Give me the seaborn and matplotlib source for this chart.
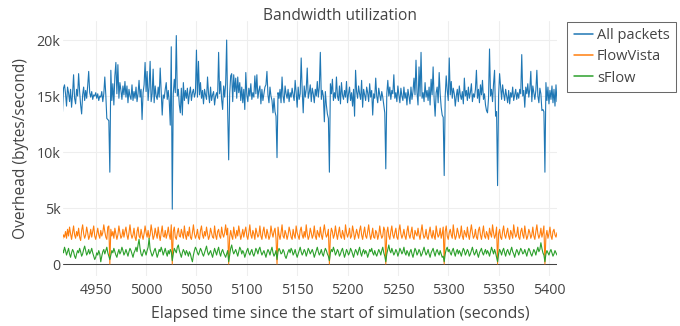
import numpy as np
import pandas as pd
import matplotlib
matplotlib.use("Agg")
import matplotlib.pyplot as plt
import seaborn as sns

# ---------------- data (one sample per second, starting at 4917 s) ----------------
start_second = 4917

all_packets = [
    13600, 15700, 16000,
    15200, 14100, 15800, 15300, 14500, 15600, 14000, 15200, 16900, 14800,  # 4920
    14300, 15600, 15000, 17000, 15400, 14200, 13400, 15100, 15800, 14600,  # 4930
    15500, 14800, 15900, 17200, 15300, 14900, 15400, 14700, 15100, 15000,  # 4940
    15300, 14800, 15200, 14600, 15000, 14900, 15400, 14500, 15200, 16700,  # 4950
    15100, 13000, 12900, 12800, 8200, 17300, 14600, 16100, 14200, 16800,   # 4960
    18000, 15200, 17800, 14800, 16200, 15500, 14700, 15900, 15100, 16300,  # 4970
    14900, 15900, 14400, 15600, 15000, 14700, 16000, 14600, 15400, 14800,  # 4980
    15800, 14500, 15200, 16400, 14900, 15600, 12900, 15300, 16000, 18000,  # 4990
    15400, 17200, 14600, 15800, 18100, 14500, 15200, 17400, 14400, 15900,  # 5000
    15000, 14700, 15800, 14900, 17500, 15400, 13300, 15100, 14800, 15600,  # 5010
    16200, 14700, 15500, 14500, 12400, 19400, 4900, 15200, 16500, 15300,   # 5020
    20400, 15000, 15600, 14200, 13500, 15700, 13300, 16200, 14600, 15500,  # 5030
    14800, 15700, 14300, 15200, 15800, 14600, 15300, 15600, 14900, 15300,  # 5040
    19100, 14900, 18100, 15100, 16200, 14800, 15500, 14300, 15600, 15100,  # 5050
    14700, 16700, 15200, 14400, 15800, 14600, 15100, 15400, 14200, 15000,  # 5060
    15300, 14800, 18900, 15200, 16300, 14700, 13800, 15900, 14900, 16100,  # 5070
    20000, 13600, 9300, 15200, 16800, 17000, 14500, 16900, 15400, 16600,   # 5080
    14800, 16700, 15300, 16200, 14600, 15800, 14400, 15600, 13800, 17100,  # 5090
    15100, 14500, 15700, 15000, 16100, 14700, 15300, 14900, 16800, 15200,  # 5100
    16900, 14800, 15500, 15900, 14300, 15600, 14600, 15200, 15800, 16000,  # 5110
    17200, 15100, 14400, 15800, 15000, 14600, 13500, 14800, 13600, 13200,  # 5120
    9500, 15300, 14800, 15600, 14400, 16700, 15000, 14400, 15900, 15200,   # 5130
    14800, 15600, 14500, 15300, 14900, 15700, 15100, 14600, 16400, 15300,  # 5140
    14000, 15800, 14700, 15200, 18400, 15500, 13500, 15900, 14900, 15600,  # 5150
    17500, 14800, 15300, 16000, 14500, 15700, 15200, 14400, 15600, 15000,  # 5160
    16300, 14900, 15800, 18900, 14700, 15500, 15000, 12700, 15400, 14200,  # 5170
    13400, 13000, 8200, 16100, 15200, 16500, 14600, 15300, 14800, 16700,   # 5180
    15000, 14600, 15900, 14300, 16200, 15100, 14700, 15500, 14900, 16300,  # 5190
    14400, 15200, 15800, 14600, 15300, 14100, 15600, 13200, 17300, 15400,  # 5200
    14800, 15900, 15200, 14700, 16400, 14000, 15600, 15100, 14600, 15800,  # 5210
    15300, 14500, 16100, 14900, 15500, 13300, 15200, 14800, 16600, 15000,  # 5220
    14400, 15700, 15100, 14600, 15400, 14900, 14200, 13500, 8500, 15200,   # 5230
    16400, 15000, 15800, 14700, 15500, 15200, 16900, 14800, 15300, 14500,  # 5240
    15900, 15100, 14400, 15700, 15000, 14600, 15800, 14800, 15300, 14200,  # 5250
    15600, 15000, 14300, 15800, 14700, 15400, 16600, 15100, 18200, 15300,  # 5260
    14200, 17600, 15000, 18900, 14800, 15300, 14500, 16200, 14900, 15500,  # 5270
    14600, 15800, 14200, 16500, 15100, 17600, 14700, 13200, 15300, 15800,  # 5280
    14400, 17100, 15200, 14000, 13300, 13100, 7900, 15000, 16800, 15500,   # 5290
    14600, 18400, 15100, 16300, 14800, 15700, 15200, 14100, 15000, 15600,  # 5300
    14500, 15900, 15100, 14700, 15400, 14300, 16600, 15000, 15500, 14600,  # 5310
    15800, 14800, 15300, 16100, 14500, 15200, 14900, 15600, 17300, 14800,  # 5320
    15600, 14400, 16000, 15100, 16400, 14700, 15200, 14200, 13700, 13500,  # 5330
    14800, 19200, 15000, 15600, 14500, 16100, 17300, 13200, 13600, 7000,   # 5340
    15100, 17000, 15800, 14700, 16000, 15200, 14600, 15600, 15000, 14400,  # 5350
    15500, 14300, 15300, 14900, 15800, 14600, 15100, 15600, 14700, 15300,  # 5360
    14800, 15600, 15200, 18700, 15000, 15500, 14000, 15800, 15200, 16100,  # 5370
    14900, 15600, 17200, 14500, 15900, 15300, 14700, 15500, 17300, 15000,  # 5380
    14400, 15700, 15200, 13700, 13800, 13600, 8200, 16200, 14600, 15800,   # 5390
    14300, 15500, 14700, 15900, 14400, 15600, 14100, 16000, 14500,         # 5400
]

flowvista = [
    2200, 2600, 2400,
    2900, 2300, 3100, 2500, 3300, 2700, 2200, 2800, 3400, 2600,  # 4920
    2300, 2900, 2500, 3200, 2400, 2100, 3000, 3500, 2700, 2300,  # 4930
    2600, 3300, 2800, 2200, 2500, 3100, 2400, 2900, 3400, 2500,  # 4940
    2200, 2700, 3200, 2600, 2300, 3000, 2500, 2800, 3500, 2900,  # 4950
    2400, 2200, 3300, 3400, 0, 3100, 2500, 2900, 2300, 3200,     # 4960
    2700, 2200, 2600, 3400, 2800, 2300, 2500, 3100, 2400, 2900,  # 4970
    3300, 2600, 2200, 2800, 3500, 2700, 2300, 2600, 3200, 2400,  # 4980
    2100, 2900, 3300, 2500, 2300, 3100, 2600, 2200, 2700, 3400,  # 4990
    2800, 2400, 3000, 2300, 2600, 3500, 2900, 2200, 2500, 3200,  # 5000
    2700, 2300, 3300, 2600, 2100, 2800, 3400, 2500, 2400, 3000,  # 5010
    2300, 2700, 3300, 2600, 2200, 3500, 0, 2900, 3300, 2400,     # 5020
    2200, 2800, 3200, 2500, 2400, 3100, 2700, 2300, 3400, 2600,  # 5030
    2200, 2900, 2500, 3300, 2400, 2200, 2800, 3500, 2700, 2300,  # 5040
    2600, 3100, 2400, 2200, 3000, 3400, 2600, 2300, 2900, 2500,  # 5050
    3300, 2700, 2200, 2500, 3200, 2800, 2400, 2300, 3400, 2600,  # 5060
    2200, 2900, 3100, 2500, 2300, 3300, 2700, 2400, 2800, 3500,  # 5070
    2600, 3200, 0, 2400, 3000, 2500, 2200, 3300, 2700, 2300,     # 5080
    3000, 2500, 3400, 2800, 2200, 2600, 3100, 2400, 2900, 3300,  # 5090
    2500, 2200, 2800, 3500, 2600, 2300, 3000, 2700, 2200, 3200,  # 5100
    2800, 2400, 2600, 3400, 2500, 2200, 2900, 3300, 2600, 2300,  # 5110
    3100, 2700, 2200, 2500, 3400, 2800, 2400, 2900, 3200, 2300,  # 5120
    0, 3300, 2600, 2200, 2800, 3500, 2500, 2300, 3000, 2700,     # 5130
    2200, 2600, 3300, 2900, 2400, 2200, 3100, 2600, 2300, 3400,  # 5140
    2800, 2500, 2200, 3000, 3300, 2600, 2300, 2900, 2400, 3500,  # 5150
    2700, 2200, 2500, 3200, 2800, 2300, 2600, 3400, 2500, 2200,  # 5160
    3000, 2700, 2400, 3300, 2600, 2200, 2900, 3500, 2800, 2400,  # 5170
    2600, 3100, 0, 2500, 3200, 2900, 2300, 2600, 3400, 2700,     # 5180
    2200, 2800, 3300, 2500, 2300, 3000, 2600, 2200, 3500, 2800,  # 5190
    2400, 2700, 3200, 2300, 2500, 3400, 2900, 2200, 2600, 3100,  # 5200
    2700, 2300, 3000, 3400, 2600, 2200, 2800, 3300, 2500, 2300,  # 5210
    2900, 3500, 2700, 2200, 2600, 3200, 2400, 2300, 3000, 2800,  # 5220
    2200, 2600, 3400, 2700, 2300, 2500, 3300, 3000, 0, 2800,     # 5230
    3300, 2500, 2200, 2900, 3400, 2600, 2300, 2800, 3200, 2400,  # 5240
    2200, 3000, 3500, 2700, 2300, 2600, 3100, 2500, 2200, 2900,  # 5250
    3400, 2600, 2300, 2800, 3300, 2400, 2200, 3000, 2700, 2500,  # 5260
    3200, 2600, 2200, 2900, 3500, 2700, 2300, 2500, 3100, 2400,  # 5270
    2200, 2800, 3300, 2600, 2300, 3000, 2500, 2200, 3400, 2800,  # 5280
    2400, 2600, 3200, 2300, 2700, 3300, 0, 2900, 3400, 2500,     # 5290
    2200, 2800, 3100, 2600, 2300, 3500, 2700, 2200, 2500, 3200,  # 5300
    2800, 2300, 2600, 3400, 2500, 2200, 3000, 2700, 2400, 3300,  # 5310
    2600, 2200, 2900, 3500, 2800, 2300, 2500, 3100, 2400, 2200,  # 5320
    3000, 3300, 2600, 2200, 2800, 3400, 2500, 2300, 2900, 2600,  # 5330
    2200, 3200, 2700, 2400, 3500, 2800, 2300, 2600, 3300, 0,     # 5340
    2700, 3100, 2400, 2200, 2900, 3400, 2600, 2300, 2800, 3200,  # 5350
    2500, 2200, 3000, 2700, 2300, 3500, 2800, 2400, 2600, 3300,  # 5360
    2400, 2200, 2900, 3200, 2600, 2300, 3400, 2700, 2200, 2500,  # 5370
    3100, 2800, 2300, 2600, 3300, 2500, 2200, 2900, 3500, 2700,  # 5380
    2300, 2600, 3200, 2400, 2800, 3400, 0, 2500, 3000, 2300,     # 5390
    2700, 3300, 2500, 2200, 2900, 3100, 2600, 2400, 2800,        # 5400
]

sflow = [
    1300, 1000, 1500,
    1200, 800, 1100, 1400, 900, 600, 1000, 1300, 1100, 700,      # 4920
    500, 900, 1200, 1000, 1400, 1100, 700, 900, 1300, 1600,      # 4930
    1200, 800, 1000, 1300, 900, 1100, 1400, 1000, 700, 400,      # 4940
    600, 1000, 800, 1200, 900, 200, 700, 1100, 1300, 900,        # 4950
    1200, 1500, 1000, 700, 400, 800, 1200, 1000, 1400, 1100,     # 4960
    800, 600, 1000, 1300, 900, 1100, 1500, 1200, 800, 1000,      # 4970
    1300, 1000, 700, 1100, 1400, 1200, 900, 600, 1000, 1200,     # 4980
    1500, 1100, 1700, 2200, 1400, 900, 700, 1000, 1300, 1100,    # 4990
    800, 1200, 1500, 2300, 1300, 1000, 700, 900, 1200, 1400,     # 5000
    1000, 600, 900, 1300, 1100, 1500, 1200, 800, 1100, 1400,     # 5010
    1000, 700, 1200, 900, 1300, 1100, 300, 900, 1400, 1200,      # 5020
    1000, 1500, 1700, 1200, 900, 600, 1000, 1300, 1100, 800,     # 5030
    1200, 1000, 700, 1100, 900, 500, 200, 800, 1200, 1500,       # 5040
    1300, 1000, 800, 1100, 1400, 1200, 900, 700, 1000, 1300,     # 5050
    1600, 1100, 800, 1000, 1200, 900, 600, 1000, 1400, 1100,     # 5060
    800, 1200, 1500, 1000, 700, 1100, 1300, 1000, 800, 600,      # 5070
    900, 1200, 200, 800, 1400, 1700, 1200, 900, 1100, 1300,      # 5080
    1000, 700, 1100, 1500, 1300, 900, 1200, 1000, 600, 900,      # 5090
    1200, 1400, 1000, 800, 1100, 1300, 900, 700, 1000, 1400,     # 5100
    1200, 900, 1300, 1500, 1100, 800, 1000, 1200, 900, 600,      # 5110
    1000, 1300, 1100, 800, 1200, 1500, 1000, 700, 900, 1200,     # 5120
    400, 1100, 1400, 1200, 900, 1000, 1300, 1100, 700, 500,      # 5130
    800, 1100, 1300, 1000, 1400, 1200, 800, 1000, 1300, 900,     # 5140
    600, 900, 1200, 1500, 1100, 800, 1000, 1300, 1100, 700,      # 5150
    1000, 1400, 1200, 900, 1100, 1300, 1000, 600, 900, 1200,     # 5160
    1500, 1100, 800, 1000, 1300, 900, 700, 1100, 1400, 1200,     # 5170
    900, 700, 300, 1000, 1300, 1100, 1500, 1200, 800, 1000,      # 5180
    1300, 1100, 700, 900, 1200, 1400, 1000, 600, 900, 1300,      # 5190
    1100, 800, 1000, 1400, 1200, 900, 600, 1000, 1300, 1100,     # 5200
    800, 1200, 1500, 1000, 700, 1100, 1300, 900, 1200, 1000,     # 5210
    600, 900, 1300, 1100, 1400, 1000, 800, 1200, 900, 700,       # 5220
    1000, 1300, 1100, 800, 1200, 1500, 1000, 700, 200, 900,      # 5230
    1300, 1700, 1200, 1000, 1400, 1100, 800, 1000, 1300, 1100,   # 5240
    700, 1000, 1400, 1200, 900, 1100, 1500, 1000, 800, 1200,     # 5250
    1000, 700, 1100, 1300, 900, 600, 1000, 1400, 1200, 800,      # 5260
    1000, 1300, 1100, 700, 900, 1200, 1500, 1100, 800, 1000,     # 5270
    1300, 900, 600, 1000, 1200, 1400, 1000, 700, 1100, 1300,     # 5280
    1000, 800, 1200, 900, 600, 700, 200, 900, 1300, 1500,        # 5290
    1100, 1300, 1000, 800, 1200, 1400, 1000, 700, 1100, 1300,    # 5300
    900, 1200, 1000, 700, 1100, 1400, 1200, 800, 1000, 1300,     # 5310
    1100, 700, 900, 1200, 1500, 1100, 800, 1000, 1300, 900,      # 5320
    600, 1000, 1200, 1400, 1000, 800, 1100, 1300, 900, 1200,     # 5330
    1000, 700, 1100, 1500, 1200, 900, 1300, 1000, 600, 200,      # 5340
    900, 1300, 1100, 800, 1200, 1400, 1000, 700, 1100, 1300,     # 5350
    1000, 800, 1200, 1500, 1100, 900, 600, 1000, 1300, 1100,     # 5360
    800, 1100, 1400, 1200, 900, 1000, 1300, 1000, 700, 1100,     # 5370
    1400, 1200, 900, 700, 1000, 1300, 1100, 800, 1200, 1500,     # 5380
    1100, 1300, 1900, 1400, 1000, 800, 200, 900, 1200, 1000,     # 5390
    800, 1100, 1300, 1000, 700, 900, 1200, 1000, 800,            # 5400
]

series_names = ["All packets", "FlowVista", "sFlow"]
series_colors = ["#1f77b4", "#ff7f0e", "#2ca02c"]
x_ticks = [4950, 5000, 5050, 5100, 5150, 5200, 5250, 5300, 5350, 5400]
y_ticks = [0, 5000, 10000, 15000, 20000]
y_tick_labels = ["0", "5k", "10k", "15k", "20k"]
title = "Bandwidth utilization"
x_label = "Elapsed time since the start of simulation (seconds)"
y_label = "Overhead (bytes/second)"

# ---------------- build long-form table ----------------
frames = []
for name, values in zip(series_names, [all_packets, flowvista, sflow]):
    secs = np.arange(start_second, start_second + len(values))
    frames.append(pd.DataFrame({"time": secs, "value": values, "series": name}))
df = pd.concat(frames, ignore_index=True)

# ---------------- style ----------------
sns.set_style("white")
plt.rcParams["font.family"] = ["Open Sans", "DejaVu Sans"]
text_color = "#444444"

W, H = 680, 326
fig = plt.figure(figsize=(W / 100, H / 100), dpi=100)
L, R, T, B = 62.5, 557.0, 21.0, 276.0
ax = fig.add_axes([L / W, 1 - B / H, (R - L) / W, (B - T) / H])

sns.lineplot(data=df, x="time", y="value", hue="series", hue_order=series_names,
             palette=series_colors, estimator=None, linewidth=0.8, ax=ax,
             legend=False, zorder=3)

t_min = start_second
t_max = start_second + len(all_packets) - 1
ax.set_xlim(t_min, t_max)
ax.set_ylim(-1070, 21700)

ax.set_xticks(x_ticks)
ax.set_yticks(y_ticks)
ax.set_yticklabels(y_tick_labels)
ax.grid(True, color="#eeeeee", linewidth=0.75, zorder=0)
ax.set_axisbelow(True)
ax.axhline(0, color="#444444", linewidth=0.75, zorder=2)
for s in ax.spines.values():
    s.set_visible(False)
ax.tick_params(axis="both", length=0, labelsize=10.3, colors=text_color)
ax.tick_params(axis="y", pad=1.5)
ax.tick_params(axis="x", pad=5.0)
ax.set_xlabel("")
ax.set_ylabel("")

fig.text(0.5, 1 - 16 / H, title, ha="center", va="center", fontsize=11.2, color=text_color)
fig.text(0.5, 1 - 314 / H, x_label, ha="center", va="center",
         fontsize=11.4, color=text_color)
fig.text(21 / W, 1 - ((T + B) / 2) / H, y_label, ha="center", va="center",
         rotation=90, fontsize=11.2, color=text_color)

handles = [plt.Line2D([], [], color=c, linewidth=1.1) for c in series_colors]
leg = ax.legend(handles, series_names, loc="upper left",
                bbox_to_anchor=(567 / W, 1 - 21.7 / H), bbox_transform=fig.transFigure,
                frameon=True, fancybox=False, borderaxespad=0, fontsize=10.5,
                handlelength=1.3, handletextpad=0.3, labelspacing=0.42,
                borderpad=0.45)
leg.get_frame().set_edgecolor("#444444")
leg.get_frame().set_linewidth(0.75)
for txt in leg.get_texts():
    txt.set_color(text_color)

fig.savefig("out.png", dpi=100)
